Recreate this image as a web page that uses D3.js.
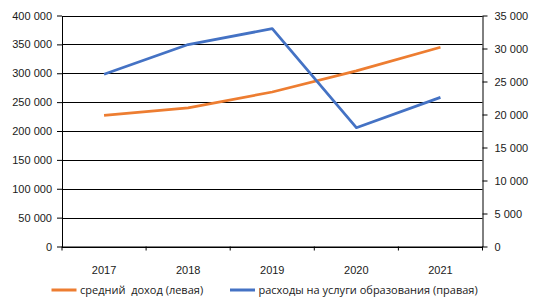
<!DOCTYPE html>
<html>
<head>
<meta charset="utf-8">
<script src="https://cdn.jsdelivr.net/npm/d3@7"></script>
<style>
  body { margin: 0; background: #fff; }
  svg { display: block; font-family: "Open Sans", sans-serif; }
  .axis path, .axis line { stroke: #000; }
  .axis text { fill: #1a1a1a; }
</style>
</head>
<body>
<div id="chart"></div>
<script>
// data
const years = ["2017", "2018", "2019", "2020", "2021"];
const income = [227000, 240000, 267500, 304000, 345000];      // левая ось
const eduSpend = [26100, 30600, 33000, 18000, 22600];          // правая ось
const leftTicks = [0, 50000, 100000, 150000, 200000, 250000, 300000, 350000, 400000];
const rightTicks = [0, 5000, 10000, 15000, 20000, 25000, 30000, 35000];
const seriesNames = ["средний  доход (левая)", "расходы на услуги образования (правая)"];
const seriesColors = ["#ED7D31", "#4472C4"];

const W = 539, H = 305;
const plot = {left: 62, right: 482.5, top: 15.5, bottom: 246.5};

const ru = d3.formatLocale({decimal: ",", thousands: "\u00a0", grouping: [3], currency: ["", ""]});
const fmt = ru.format(",");

const svg = d3.select("#chart").append("svg")
    .attr("width", W)
    .attr("height", H);

const x = d3.scaleBand()
    .domain(years)
    .range([plot.left, plot.right])
    .padding(0);

const yL = d3.scaleLinear()
    .domain([0, 400000])
    .range([plot.bottom, plot.top]);

const yR = d3.scaleLinear()
    .domain([0, 35000])
    .range([plot.bottom, plot.top]);

// gridlines from the left axis
svg.append("g")
    .selectAll("line")
    .data(leftTicks)
    .enter().append("line")
    .attr("x1", plot.left)
    .attr("x2", plot.right)
    .attr("y1", d => Math.round(yL(d)) + 0.5)
    .attr("y2", d => Math.round(yL(d)) + 0.5)
    .attr("stroke", "#000")
    .attr("stroke-width", 1);

// left axis
svg.append("g")
    .attr("class", "axis")
    .attr("transform", `translate(${plot.left},0)`)
    .call(d3.axisLeft(yL).tickValues(leftTicks).tickFormat(fmt).tickSize(5).tickSizeOuter(0).tickPadding(5))
    .call(g => g.selectAll("text").style("font-size", "11px"));

// right axis
svg.append("g")
    .attr("class", "axis")
    .attr("transform", `translate(${plot.right},0)`)
    .call(d3.axisRight(yR).tickValues(rightTicks).tickFormat(fmt).tickSize(5).tickSizeOuter(0).tickPadding(7))
    .call(g => g.selectAll("text").style("font-size", "11px"));

// bottom axis: labels at category centres, ticks at category edges
const xAxis = svg.append("g")
    .attr("class", "axis")
    .attr("transform", `translate(0,${plot.bottom})`)
    .call(d3.axisBottom(x).tickSize(0).tickSizeOuter(0).tickPadding(20))
    .call(g => g.selectAll("text").style("font-size", "11px"));

xAxis.selectAll(".edge")
    .data(years.map(d => x(d)).concat([plot.right]))
    .enter().append("line")
    .attr("class", "edge")
    .attr("x1", d => d)
    .attr("x2", d => d)
    .attr("y1", 0)
    .attr("y2", 4)
    .attr("stroke", "#000");

// lines
const lineL = d3.line()
    .x((d, i) => x(years[i]) + x.bandwidth() / 2)
    .y(d => yL(d));

const lineR = d3.line()
    .x((d, i) => x(years[i]) + x.bandwidth() / 2)
    .y(d => yR(d));

svg.append("path")
    .datum(income)
    .attr("d", lineL)
    .attr("fill", "none")
    .attr("stroke", seriesColors[0])
    .attr("stroke-width", 2.75)
    .attr("stroke-linejoin", "round");

svg.append("path")
    .datum(eduSpend)
    .attr("d", lineR)
    .attr("fill", "none")
    .attr("stroke", seriesColors[1])
    .attr("stroke-width", 2.75)
    .attr("stroke-linejoin", "round");

// legend
const legendX = [51.5, 230];
const legend = svg.append("g")
    .selectAll("g")
    .data(seriesNames)
    .enter().append("g")
    .attr("transform", (d, i) => `translate(${legendX[i]},290)`);

legend.append("line")
    .attr("x1", 0)
    .attr("x2", 25)
    .attr("stroke", (d, i) => seriesColors[i])
    .attr("stroke-width", 3);

legend.append("text")
    .attr("x", 28.5)
    .attr("dy", "0.35em")
    .style("font-size", "11px")
    .attr("fill", "#1a1a1a")
    .style("white-space", "pre")
    .text(d => d);
</script>
</body>
</html>
